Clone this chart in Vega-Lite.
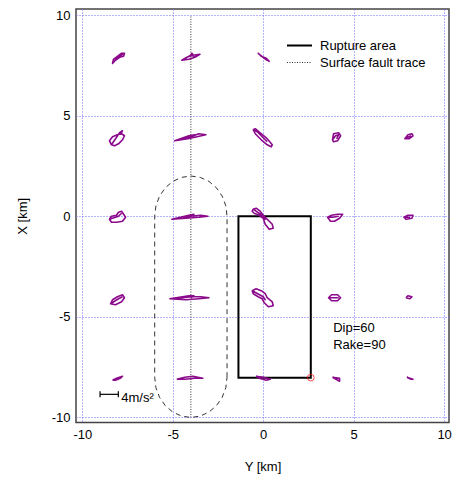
{
"$schema": "https://vega.github.io/schema/vega-lite/v6.json",
"width": 373, "height": 413.5,
"autosize": {"type": "none"},
"padding": {"left": 76, "top": 9, "right": 8, "bottom": 56},
"config": {
  "font": "Liberation Sans",
  "view": {"stroke": "#444", "strokeWidth": 1.5},
  "axis": {"labelFontSize": 13, "titleFontSize": 13, "titleFontWeight": "normal", "labelColor": "#000", "titleColor": "#000", "grid": true, "gridColor": "#6b6bff", "gridDash": [1, 2], "gridOpacity": 1, "gridWidth": 1, "ticks": false, "domain": false},
  "legend": {"labelFontSize": 13, "labelColor": "#000", "symbolType": "stroke", "symbolSize": 625, "padding": 0, "rowPadding": 2, "clipHeight": 15, "labelOffset": 7}
},
"datasets": {
  "orbits": [
    {"s":"A","i":0,"Y":-8.33,"X":7.60},{"s":"A","i":1,"Y":-8.28,"X":7.80},{"s":"A","i":2,"Y":-8.06,"X":7.95},{"s":"A","i":3,"Y":-7.83,"X":8.10},{"s":"A","i":4,"Y":-7.67,"X":8.10},{"s":"A","i":5,"Y":-7.72,"X":7.95},{"s":"A","i":6,"Y":-7.94,"X":7.90},{"s":"A","i":7,"Y":-8.17,"X":7.75},{"s":"A","i":8,"Y":-8.33,"X":7.60},{"s":"A","i":9,"Y":-7.94,"X":8.00},{"s":"A","i":10,"Y":-7.78,"X":8.05},{"s":"A","i":11,"Y":-7.89,"X":7.95},{"s":"A","i":12,"Y":-7.94,"X":8.00},
    {"s":"B","i":0,"Y":-4.50,"X":7.75},{"s":"B","i":1,"Y":-4.22,"X":7.90},{"s":"B","i":2,"Y":-3.89,"X":8.00},{"s":"B","i":3,"Y":-3.50,"X":8.05},{"s":"B","i":4,"Y":-3.78,"X":7.90},{"s":"B","i":5,"Y":-4.11,"X":7.80},{"s":"B","i":6,"Y":-4.50,"X":7.75},{"s":"B","i":7,"Y":-4.00,"X":8.00},{"s":"B","i":8,"Y":-3.83,"X":7.95},{"s":"B","i":9,"Y":-3.94,"X":8.10},{"s":"B","i":10,"Y":-4.06,"X":7.95},
    {"s":"C","i":0,"Y":-0.28,"X":8.10},{"s":"C","i":1,"Y":0.00,"X":7.90},{"s":"C","i":2,"Y":0.33,"X":7.70},{"s":"C","i":3,"Y":0.17,"X":7.85},{"s":"C","i":4,"Y":-0.11,"X":7.95},{"s":"C","i":5,"Y":-0.28,"X":8.10},{"s":"C","i":6,"Y":0.06,"X":7.85},{"s":"C","i":7,"Y":0.22,"X":7.75},
    {"s":"D","i":0,"Y":-8.39,"X":3.55},{"s":"D","i":1,"Y":-8.50,"X":3.75},{"s":"D","i":2,"Y":-8.33,"X":3.95},{"s":"D","i":3,"Y":-8.06,"X":4.05},{"s":"D","i":4,"Y":-7.83,"X":4.10},{"s":"D","i":5,"Y":-7.67,"X":4.00},{"s":"D","i":6,"Y":-7.78,"X":3.80},{"s":"D","i":7,"Y":-8.00,"X":3.60},{"s":"D","i":8,"Y":-8.22,"X":3.50},{"s":"D","i":9,"Y":-8.39,"X":3.55},{"s":"D","i":10,"Y":-7.94,"X":4.15},{"s":"D","i":11,"Y":-7.78,"X":4.25},{"s":"D","i":12,"Y":-7.89,"X":4.05},
    {"s":"E","i":0,"Y":-4.89,"X":3.75},{"s":"E","i":1,"Y":-4.44,"X":3.85},{"s":"E","i":2,"Y":-4.00,"X":3.95},{"s":"E","i":3,"Y":-3.56,"X":4.10},{"s":"E","i":4,"Y":-3.17,"X":4.05},{"s":"E","i":5,"Y":-3.67,"X":3.95},{"s":"E","i":6,"Y":-4.17,"X":3.85},{"s":"E","i":7,"Y":-4.89,"X":3.75},{"s":"E","i":8,"Y":-4.11,"X":4.00},{"s":"E","i":9,"Y":-3.78,"X":4.05},{"s":"E","i":10,"Y":-4.00,"X":3.95},
    {"s":"F","i":0,"Y":-0.55,"X":4.30},{"s":"F","i":1,"Y":-0.44,"X":4.35},{"s":"F","i":2,"Y":-0.17,"X":4.15},{"s":"F","i":3,"Y":0.17,"X":3.90},{"s":"F","i":4,"Y":0.50,"X":3.55},{"s":"F","i":5,"Y":0.44,"X":3.45},{"s":"F","i":6,"Y":0.22,"X":3.55},{"s":"F","i":7,"Y":-0.11,"X":3.80},{"s":"F","i":8,"Y":-0.44,"X":4.10},{"s":"F","i":9,"Y":-0.55,"X":4.30},{"s":"F","i":10,"Y":-0.33,"X":4.20},{"s":"F","i":11,"Y":0.22,"X":3.70},
    {"s":"G","i":0,"Y":3.83,"X":3.80},{"s":"G","i":1,"Y":3.89,"X":4.10},{"s":"G","i":2,"Y":4.17,"X":4.15},{"s":"G","i":3,"Y":4.28,"X":4.00},{"s":"G","i":4,"Y":4.11,"X":3.75},{"s":"G","i":5,"Y":3.89,"X":3.70},{"s":"G","i":6,"Y":3.83,"X":3.80},{"s":"G","i":7,"Y":4.00,"X":4.00},{"s":"G","i":8,"Y":4.17,"X":4.05},{"s":"G","i":9,"Y":4.06,"X":3.85},
    {"s":"H","i":0,"Y":7.83,"X":3.85},{"s":"H","i":1,"Y":8.00,"X":4.05},{"s":"H","i":2,"Y":8.22,"X":4.10},{"s":"H","i":3,"Y":8.28,"X":4.00},{"s":"H","i":4,"Y":8.06,"X":3.85},{"s":"H","i":5,"Y":7.83,"X":3.85},{"s":"H","i":6,"Y":8.06,"X":3.95},{"s":"H","i":7,"Y":8.17,"X":4.00},
    {"s":"I","i":0,"Y":-8.50,"X":-0.15},{"s":"I","i":1,"Y":-8.39,"X":0.00},{"s":"I","i":2,"Y":-8.11,"X":0.05},{"s":"I","i":3,"Y":-8.00,"X":0.20},{"s":"I","i":4,"Y":-7.83,"X":0.25},{"s":"I","i":5,"Y":-7.72,"X":0.10},{"s":"I","i":6,"Y":-7.61,"X":-0.05},{"s":"I","i":7,"Y":-7.78,"X":-0.25},{"s":"I","i":8,"Y":-8.11,"X":-0.30},{"s":"I","i":9,"Y":-8.39,"X":-0.30},{"s":"I","i":10,"Y":-8.50,"X":-0.15},{"s":"I","i":11,"Y":-8.00,"X":0.00},{"s":"I","i":12,"Y":-7.83,"X":0.15},
    {"s":"J","i":0,"Y":-5.05,"X":-0.15},{"s":"J","i":1,"Y":-4.44,"X":-0.10},{"s":"J","i":2,"Y":-4.00,"X":0.00},{"s":"J","i":3,"Y":-3.45,"X":0.05},{"s":"J","i":4,"Y":-3.06,"X":0.00},{"s":"J","i":5,"Y":-3.56,"X":-0.05},{"s":"J","i":6,"Y":-4.28,"X":-0.10},{"s":"J","i":7,"Y":-5.05,"X":-0.15},{"s":"J","i":8,"Y":-4.11,"X":0.05},{"s":"J","i":9,"Y":-3.83,"X":0.10},{"s":"J","i":10,"Y":-3.94,"X":-0.05},
    {"s":"K","i":0,"Y":-0.55,"X":0.35},{"s":"K","i":1,"Y":-0.39,"X":0.40},{"s":"K","i":2,"Y":-0.17,"X":0.25},{"s":"K","i":3,"Y":0.00,"X":0.05},{"s":"K","i":4,"Y":0.22,"X":-0.15},{"s":"K","i":5,"Y":0.50,"X":-0.40},{"s":"K","i":6,"Y":0.55,"X":-0.60},{"s":"K","i":7,"Y":0.33,"X":-0.65},{"s":"K","i":8,"Y":0.11,"X":-0.40},{"s":"K","i":9,"Y":0.00,"X":-0.10},{"s":"K","i":10,"Y":-0.22,"X":0.05},{"s":"K","i":11,"Y":-0.50,"X":0.15},{"s":"K","i":12,"Y":-0.61,"X":0.25},{"s":"K","i":13,"Y":-0.55,"X":0.35},{"s":"K","i":14,"Y":0.00,"X":0.00},{"s":"K","i":15,"Y":0.11,"X":-0.15},{"s":"K","i":16,"Y":-0.06,"X":0.10},
    {"s":"L","i":0,"Y":3.56,"X":-0.05},{"s":"L","i":1,"Y":3.78,"X":0.05},{"s":"L","i":2,"Y":4.11,"X":0.10},{"s":"L","i":3,"Y":4.39,"X":0.10},{"s":"L","i":4,"Y":4.22,"X":-0.10},{"s":"L","i":5,"Y":3.94,"X":-0.25},{"s":"L","i":6,"Y":3.72,"X":-0.25},{"s":"L","i":7,"Y":3.56,"X":-0.05},{"s":"L","i":8,"Y":3.83,"X":-0.05},{"s":"L","i":9,"Y":4.17,"X":0.00},
    {"s":"M","i":0,"Y":7.78,"X":-0.05},{"s":"M","i":1,"Y":8.00,"X":0.05},{"s":"M","i":2,"Y":8.28,"X":0.05},{"s":"M","i":3,"Y":8.22,"X":-0.10},{"s":"M","i":4,"Y":7.89,"X":-0.15},{"s":"M","i":5,"Y":7.78,"X":-0.05},{"s":"M","i":6,"Y":8.11,"X":-0.05},
    {"s":"N","i":0,"Y":-8.44,"X":-4.35},{"s":"N","i":1,"Y":-8.33,"X":-4.15},{"s":"N","i":2,"Y":-8.06,"X":-4.00},{"s":"N","i":3,"Y":-7.78,"X":-3.90},{"s":"N","i":4,"Y":-7.67,"X":-4.05},{"s":"N","i":5,"Y":-7.83,"X":-4.25},{"s":"N","i":6,"Y":-8.17,"X":-4.40},{"s":"N","i":7,"Y":-8.44,"X":-4.35},{"s":"N","i":8,"Y":-8.00,"X":-4.10},{"s":"N","i":9,"Y":-7.78,"X":-4.00},
    {"s":"O","i":0,"Y":-5.16,"X":-4.10},{"s":"O","i":1,"Y":-4.44,"X":-4.05},{"s":"O","i":2,"Y":-4.00,"X":-4.00},{"s":"O","i":3,"Y":-3.45,"X":-4.00},{"s":"O","i":4,"Y":-3.00,"X":-4.05},{"s":"O","i":5,"Y":-3.56,"X":-4.10},{"s":"O","i":6,"Y":-4.28,"X":-4.15},{"s":"O","i":7,"Y":-5.16,"X":-4.10},{"s":"O","i":8,"Y":-4.11,"X":-3.95},{"s":"O","i":9,"Y":-3.83,"X":-3.95},{"s":"O","i":10,"Y":-4.00,"X":-4.05},
    {"s":"P","i":0,"Y":-0.61,"X":-3.70},{"s":"P","i":1,"Y":-0.39,"X":-3.60},{"s":"P","i":2,"Y":-0.11,"X":-3.70},{"s":"P","i":3,"Y":0.11,"X":-3.85},{"s":"P","i":4,"Y":0.22,"X":-4.05},{"s":"P","i":5,"Y":0.50,"X":-4.25},{"s":"P","i":6,"Y":0.55,"X":-4.45},{"s":"P","i":7,"Y":0.28,"X":-4.50},{"s":"P","i":8,"Y":0.06,"X":-4.30},{"s":"P","i":9,"Y":-0.06,"X":-4.10},{"s":"P","i":10,"Y":-0.28,"X":-4.00},{"s":"P","i":11,"Y":-0.55,"X":-3.85},{"s":"P","i":12,"Y":-0.61,"X":-3.70},{"s":"P","i":13,"Y":0.00,"X":-4.00},{"s":"P","i":14,"Y":0.11,"X":-4.15},{"s":"P","i":15,"Y":-0.06,"X":-3.95},
    {"s":"Q","i":0,"Y":3.61,"X":-4.05},{"s":"Q","i":1,"Y":3.78,"X":-3.90},{"s":"Q","i":2,"Y":4.11,"X":-3.90},{"s":"Q","i":3,"Y":4.28,"X":-4.05},{"s":"Q","i":4,"Y":4.11,"X":-4.20},{"s":"Q","i":5,"Y":3.78,"X":-4.20},{"s":"Q","i":6,"Y":3.61,"X":-4.05},{"s":"Q","i":7,"Y":3.89,"X":-4.05},{"s":"Q","i":8,"Y":4.17,"X":-4.05},
    {"s":"R","i":0,"Y":7.89,"X":-4.05},{"s":"R","i":1,"Y":8.00,"X":-3.95},{"s":"R","i":2,"Y":8.22,"X":-4.00},{"s":"R","i":3,"Y":8.11,"X":-4.10},{"s":"R","i":4,"Y":7.89,"X":-4.05},
    {"s":"S","i":0,"Y":-8.33,"X":-8.15},{"s":"S","i":1,"Y":-8.11,"X":-8.05},{"s":"S","i":2,"Y":-7.78,"X":-7.95},{"s":"S","i":3,"Y":-7.89,"X":-8.05},{"s":"S","i":4,"Y":-8.17,"X":-8.15},{"s":"S","i":5,"Y":-8.33,"X":-8.15},
    {"s":"T","i":0,"Y":-4.78,"X":-8.10},{"s":"T","i":1,"Y":-4.33,"X":-8.00},{"s":"T","i":2,"Y":-3.89,"X":-7.95},{"s":"T","i":3,"Y":-3.34,"X":-8.05},{"s":"T","i":4,"Y":-3.78,"X":-8.05},{"s":"T","i":5,"Y":-4.33,"X":-8.10},{"s":"T","i":6,"Y":-4.78,"X":-8.10},
    {"s":"U","i":0,"Y":-0.39,"X":-7.95},{"s":"U","i":1,"Y":0.00,"X":-8.00},{"s":"U","i":2,"Y":0.39,"X":-8.10},{"s":"U","i":3,"Y":0.17,"X":-8.15},{"s":"U","i":4,"Y":-0.22,"X":-8.05},{"s":"U","i":5,"Y":-0.39,"X":-7.95},
    {"s":"V","i":0,"Y":3.83,"X":-8.00},{"s":"V","i":1,"Y":4.22,"X":-8.05},{"s":"V","i":2,"Y":4.22,"X":-8.20},{"s":"V","i":3,"Y":3.83,"X":-8.00},
    {"s":"W","i":0,"Y":7.94,"X":-8.00},{"s":"W","i":1,"Y":8.28,"X":-8.10},{"s":"W","i":2,"Y":8.17,"X":-8.10},{"s":"W","i":3,"Y":7.94,"X":-8.00}
  ],
  "stadium": [
    {"i":0,"Y":-2,"X":-8},{"i":1,"Y":-2,"X":0},{"i":2,"Y":-2.068,"X":0.518},{"i":3,"Y":-2.268,"X":1.0},{"i":4,"Y":-2.586,"X":1.414},{"i":5,"Y":-3.0,"X":1.732},{"i":6,"Y":-3.482,"X":1.932},{"i":7,"Y":-4,"X":2},{"i":8,"Y":-4.518,"X":1.932},{"i":9,"Y":-5.0,"X":1.732},{"i":10,"Y":-5.414,"X":1.414},{"i":11,"Y":-5.732,"X":1.0},{"i":12,"Y":-5.932,"X":0.518},{"i":13,"Y":-6,"X":0},{"i":14,"Y":-6,"X":-8},{"i":15,"Y":-5.932,"X":-8.518},{"i":16,"Y":-5.732,"X":-9.0},{"i":17,"Y":-5.414,"X":-9.414},{"i":18,"Y":-5.0,"X":-9.732},{"i":19,"Y":-4.518,"X":-9.932},{"i":20,"Y":-4,"X":-10},{"i":21,"Y":-3.482,"X":-9.932},{"i":22,"Y":-3.0,"X":-9.732},{"i":23,"Y":-2.586,"X":-9.414},{"i":24,"Y":-2.268,"X":-9.0},{"i":25,"Y":-2.068,"X":-8.518},{"i":26,"Y":-2,"X":-8}
  ],
  "rupture": [
    {"kind":"Rupture area","i":0,"Y":-1.37,"X":0},{"kind":"Rupture area","i":1,"Y":2.63,"X":0},{"kind":"Rupture area","i":2,"Y":2.63,"X":-8.02},{"kind":"Rupture area","i":3,"Y":-1.37,"X":-8.02},{"kind":"Rupture area","i":4,"Y":-1.37,"X":0},{"kind":"Rupture area","i":5,"Y":2.63,"X":0}
  ],
  "fault": [{"kind":"Surface fault trace","Y":-4,"X":-10,"X2":10}],
  "scalebar": [
    {"Y":-9.02,"Y2":-8.01,"X":-8.85,"X2":-8.85},{"Y":-9.02,"Y2":-9.02,"X":-8.7,"X2":-9.0},{"Y":-8.01,"Y2":-8.01,"X":-8.7,"X2":-9.0}
  ],
  "notes": [
    {"label":"Dip=60","Y":3.87,"X":-5.56},{"label":"Rake=90","Y":3.87,"X":-6.40},{"label":"4m/s²","Y":-7.85,"X":-9.03}
  ]
},
"encoding": {
  "x": {"field": "Y", "type": "quantitative", "scale": {"domain": [-10.35, 10.27], "nice": false, "zero": false}, "axis": {"values": [-10, -5, 0, 5, 10], "title": "Y [km]", "labelExpr": "'' + datum.value", "labelPadding": 6, "titlePadding": 19}},
  "y": {"field": "X", "type": "quantitative", "scale": {"domain": [-10.25, 10.3], "nice": false, "zero": false}, "axis": {"values": [-10, -5, 0, 5, 10], "title": "X [km]", "labelExpr": "'' + datum.value", "labelPadding": 6, "titlePadding": 22}}
},
"layer": [
  {"data": {"name": "stadium"}, "mark": {"type": "line", "color": "#333", "strokeWidth": 1, "strokeDash": [5, 4]}, "encoding": {"order": {"field": "i", "type": "quantitative"}}},
  {"data": {"name": "fault"}, "mark": {"type": "rule"},
   "encoding": {"y2": {"field": "X2"},
     "color": {"field": "kind", "type": "nominal", "scale": {"domain": ["Rupture area", "Surface fault trace"], "range": ["#000000", "#333333"]}, "legend": {"title": null, "orient": "none", "legendX": 210, "legendY": 29}},
     "strokeDash": {"field": "kind", "type": "nominal", "scale": {"domain": ["Rupture area", "Surface fault trace"], "range": [[1, 0], [1, 1.5]]}, "legend": {"title": null, "orient": "none", "legendX": 210, "legendY": 29}},
     "strokeWidth": {"field": "kind", "type": "ordinal", "scale": {"domain": ["Rupture area", "Surface fault trace"], "range": [2, 1]}, "legend": {"title": null, "orient": "none", "legendX": 210, "legendY": 29}}}},
  {"data": {"name": "rupture"}, "mark": {"type": "line"},
   "encoding": {"order": {"field": "i", "type": "quantitative"},
     "color": {"field": "kind", "type": "nominal", "scale": {"domain": ["Rupture area", "Surface fault trace"], "range": ["#000000", "#333333"]}, "legend": {"title": null, "orient": "none", "legendX": 210, "legendY": 29}},
     "strokeDash": {"field": "kind", "type": "nominal", "scale": {"domain": ["Rupture area", "Surface fault trace"], "range": [[1, 0], [1, 1.5]]}, "legend": {"title": null, "orient": "none", "legendX": 210, "legendY": 29}},
     "strokeWidth": {"field": "kind", "type": "ordinal", "scale": {"domain": ["Rupture area", "Surface fault trace"], "range": [2, 1]}, "legend": {"title": null, "orient": "none", "legendX": 210, "legendY": 29}}}},
  {"data": {"name": "orbits"}, "mark": {"type": "line", "color": "#8b0a8b", "strokeWidth": 1.6, "strokeJoin": "round"}, "encoding": {"detail": {"field": "s"}, "order": {"field": "i", "type": "quantitative"}}},
  {"data": {"values": [{"Y": 2.63, "X": -8.02}]}, "mark": {"type": "point", "shape": "circle", "filled": false, "color": "#ff0000", "size": 45, "strokeWidth": 1}},
  {"data": {"name": "scalebar"}, "mark": {"type": "rule", "color": "#000", "strokeWidth": 1.2}, "encoding": {"x2": {"field": "Y2"}, "y2": {"field": "X2"}}},
  {"data": {"name": "notes"}, "mark": {"type": "text", "align": "left", "baseline": "middle", "fontSize": 13, "color": "#000"}, "encoding": {"text": {"field": "label"}}}
]
}
